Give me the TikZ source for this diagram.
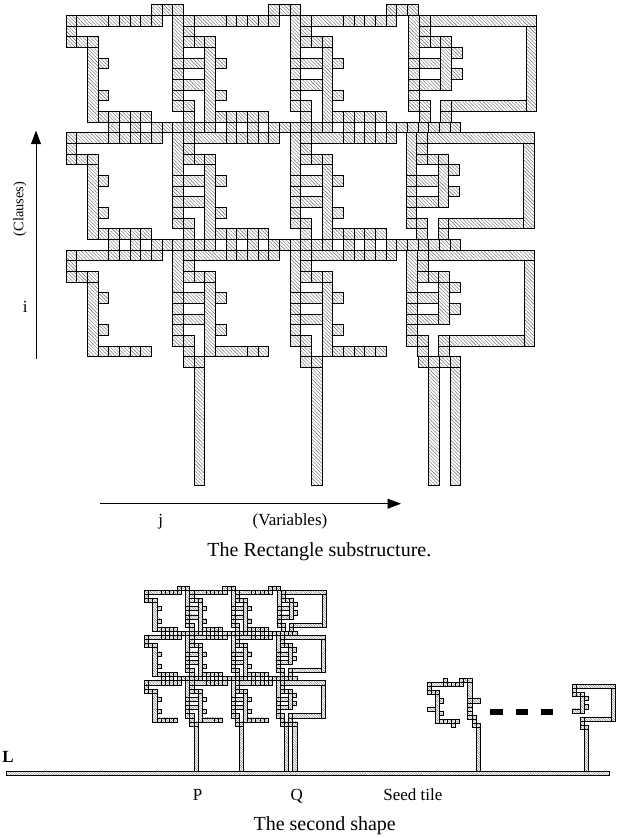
\documentclass[tikz,border=0pt]{standalone}
\usepackage{fontspec}
\setmainfont{Liberation Serif}
\usetikzlibrary{patterns.meta, arrows.meta}

\newcommand{\tile}[2]{\draw[tile] (#1,#2) rectangle ++(1,1);}
\newcommand{\longtile}[4]{\draw[tile] (#1,#2) rectangle ++(#3,#4);}

\newcommand{\cellarm}{
    \tile{0}{1}\longtile{1}{1}{3}{1}
    \foreach \cl in {4,...,8} {\tile{\cl}{1}}
    \tile{0}{2}
    \foreach \cl in {0,1,2} {\tile{\cl}{3}}
    \longtile{2}{4}{1}{7}
    \tile{3}{5}\tile{3}{8}
    \foreach \cl in {3,...,7} {\tile{\cl}{10}}
}
\newcommand{\cellstem}{
    \longtile{-1}{1}{1}{4}
    \foreach \rw in {5,...,9} {\tile{-1}{\rw}}
    \longtile{0}{5}{2}{1}\longtile{0}{7}{2}{1}
    \tile{0}{9}\tile{0}{10}
}
\newcommand{\cellopen}{
    \tile{0}{1}\longtile{1}{1}{10}{1}\tile{0}{2}
    \foreach \cl in {0,1,2} {\tile{\cl}{3}}
    \longtile{2}{4}{1}{4}
    \tile{3}{4}\tile{3}{6}
    \tile{2}{9}\tile{2}{10}
    \longtile{3}{9}{7}{1}\longtile{10}{2}{1}{8}
}
\newcommand{\rectblock}{
    \foreach \cl in {0,1,2} {
        \foreach \tp in {8,9,10} {\tile{11*\cl+\tp}{0}}
    }
    \foreach \rw in {0,1,2} {
        \foreach \cl in {0,1,2} {
            \begin{scope}[shift={({11*\cl},{11*\rw})}]
                \cellarm
                \ifnum\cl>0 \cellstem\fi
            \end{scope}
        }
    }
    \foreach \rw/\dx in {0/0.12,1/-0.12,2/-0.06} {
        \begin{scope}[shift={({33+\dx},{11*\rw})}]
            \cellstem
            \cellopen
        \end{scope}
    }
    \foreach \rw in {0,1} {
        \foreach \cl in {0,1,2} {
            \begin{scope}[shift={({11*\cl},{11*\rw})}]
                \tile{4}{11}\tile{6}{11}
                \foreach \tp in {8,...,13} {\tile{\tp}{11}}
            \end{scope}
        }
        \tile{36}{11*\rw+11}
    }
    \longtile{14}{32}{3}{1}
    \foreach \cl in {11,22} {
        \tile{\cl}{33}\tile{\cl+1}{33}
        \longtile{\cl+1}{34}{1}{11.1}
    }
    \foreach \cl in {33,34,35,36} {\tile{\cl}{33}}
    \longtile{34}{34}{1}{11.1}\longtile{36}{34}{1}{11.1}
}

\begin{document}
\begin{tikzpicture}[
        x=1pt, y=-1pt,
        bigtile/.style={draw=black, line width=0.8pt, preaction={fill=white},
            pattern={Lines[angle=-45,distance=2.5pt,line width=0.4pt]}, pattern color=black!60},
        smalltile/.style={draw=black, line width=0.65pt, preaction={fill=white},
            pattern={Lines[angle=-45,distance=1.8pt,line width=0.35pt]}, pattern color=black!60},
        lbl/.style={inner sep=0pt, anchor=base, font=\fontsize{17}{19}\selectfont},
        caption/.style={inner sep=0pt, anchor=base, font=\fontsize{20}{22}\selectfont},
        axis/.style={black, line width=0.9pt, -{Triangle[length=13.5pt,width=10pt]}},
    ]
    \useasboundingbox (0,0) rectangle (618,838);

    \begin{scope}[shift={(66,4.67)}, x=10.67pt, y=-10.67pt, tile/.style={bigtile}]
        \rectblock
    \end{scope}

    \coordinate (ifrom) at (36,359);
    \coordinate (ito) at (36,130.7);
    \coordinate (jfrom) at (100,503.7);
    \coordinate (jto) at (401,503.7);
    \draw[axis] (ifrom) -- (ito);
    \draw[axis] (jfrom) -- (jto);
    \node[inner sep=0pt, rotate=90, font=\fontsize{14.5}{16}\selectfont] (clauses) at (20,209) {(Clauses)};
    \node[lbl] (ilabel) at (25.3,312.7) {i};
    \node[lbl] (jlabel) at (160.7,525) {j};
    \node[lbl] (variables) at (290,525) {(Variables)};
    \node[caption] (captop) at (319.4,556) {The Rectangle substructure.};

    \begin{scope}[shift={(144.5,586)}, x=4.12pt, y=-4.12pt, tile/.style={smalltile}]
        \rectblock
    \end{scope}

    \begin{scope}[shift={(427.3,678.3)}, x=4.05pt, y=-4.1pt, tile/.style={smalltile}]
        \cellarm
        \tile{4}{0}\tile{6}{11}\longtile{0}{7}{2}{1}
        \foreach \tp in {8,9,10} {\tile{\tp}{0}}
        \longtile{10}{1}{1}{4}
        \foreach \rw in {5,...,9} {\tile{10}{\rw}}
        \longtile{11}{5}{2}{1}
        \tile{11}{9}\tile{11}{10}\tile{11}{11}\tile{12}{11}
        \longtile{12}{12}{1}{10.7}
    \end{scope}

    \begin{scope}[shift={(572.3,680.2)}, x=3.95pt, y=-4.1pt, tile/.style={smalltile}]
        \cellopen
        \longtile{0}{7}{2}{1}
        \tile{2}{11}\tile{3}{11}
        \longtile{3}{12}{1}{10.3}
    \end{scope}

    \foreach \dashx in {490.3,515.7,541} {
        \fill[black] (\dashx,709) rectangle ++(12.4,6);
    }

    \draw[smalltile] (6,771) rectangle (609,775.7);

    \node[inner sep=0pt, anchor=base, font=\fontsize{17}{19}\selectfont\bfseries] (llabel) at (8,762.7) {L};
    \node[lbl] (plabel) at (197.5,800) {P};
    \node[lbl] (qlabel) at (296.7,800) {Q};
    \node[lbl] (seedlabel) at (412.8,800) {Seed tile};
    \node[caption] (capbottom) at (324.7,830) {The second shape};
\end{tikzpicture}
\end{document}
